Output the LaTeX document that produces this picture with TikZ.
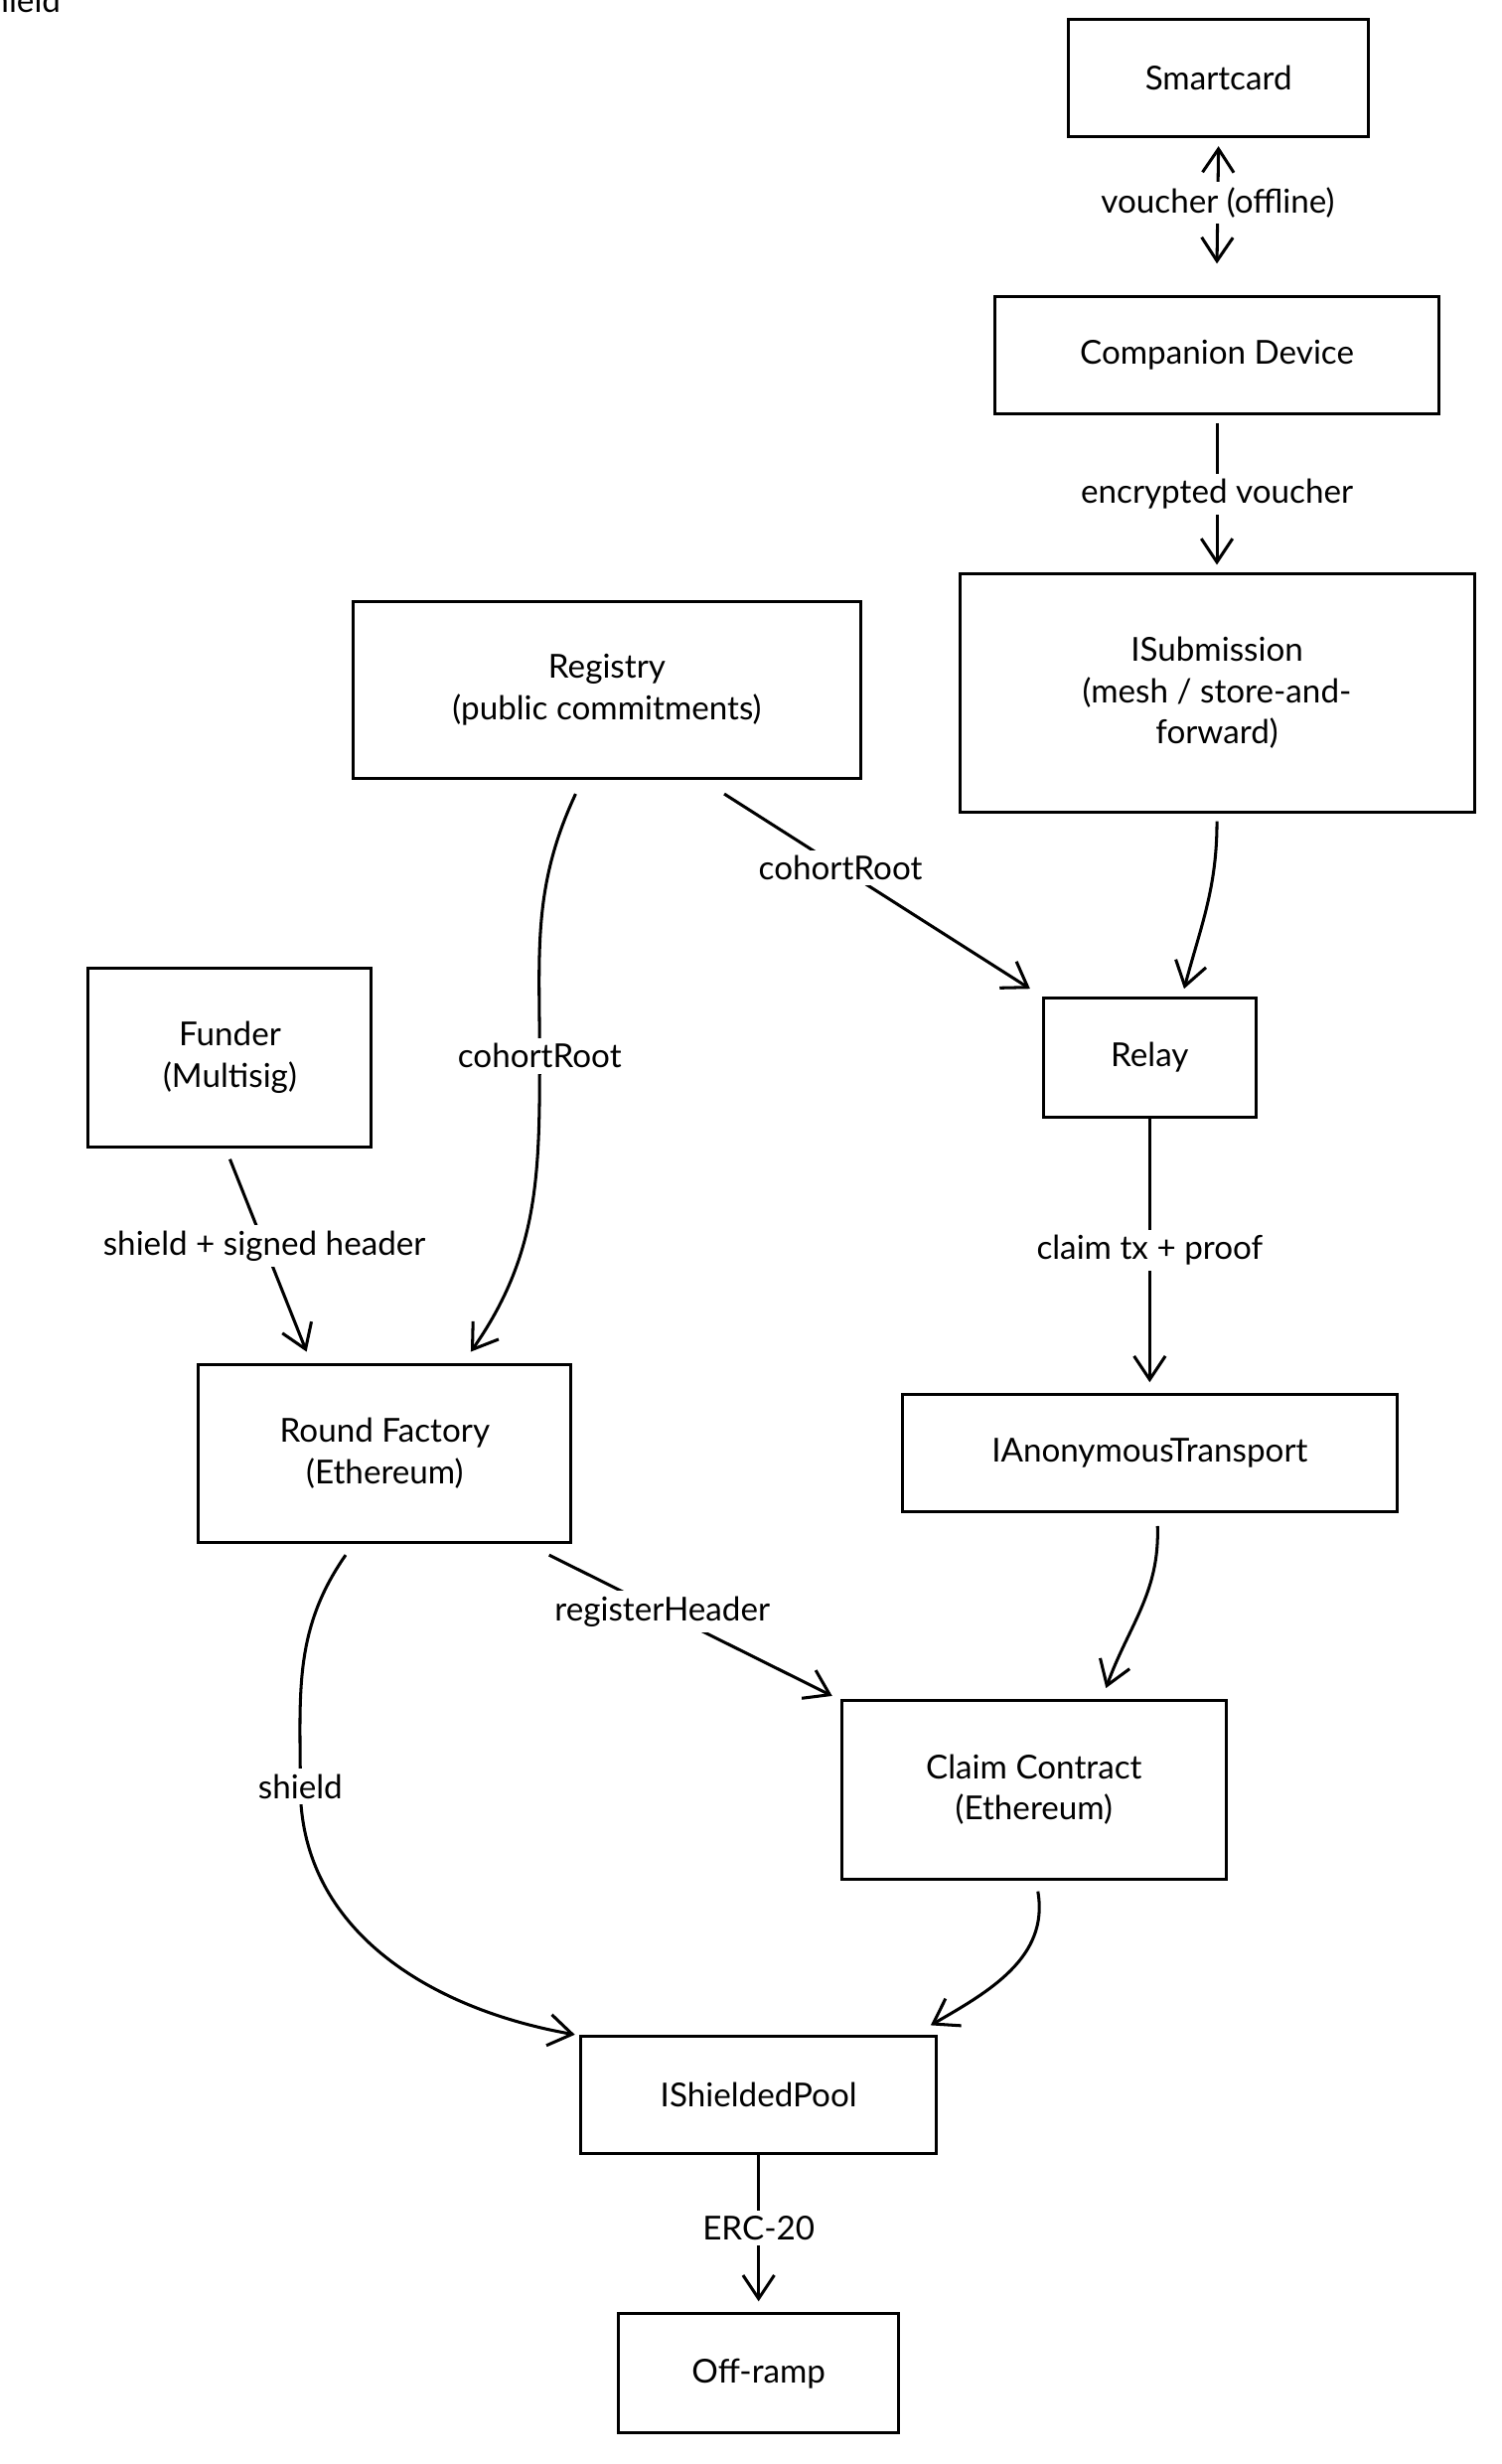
\documentclass[tikz,border=0pt]{standalone}
\usepackage{fontspec}
\setmainfont{Lato}
\usetikzlibrary{arrows.meta}
\tikzset{
  box/.style={draw,line width=1.1pt,align=center,font=\fontsize{12}{15}\selectfont},
  link/.style={line width=1.1pt,-{Straight Barb[length=3mm,width=4mm]}},
  lab/.style={fill=white,inner sep=2pt,font=\fontsize{12}{14}\selectfont}
}
\begin{document}
\begin{tikzpicture}
    \useasboundingbox (0,0) rectangle (19.2,-31.5);
    \node[box,minimum width=3.84cm,minimum height=1.5cm] (card) at (15.58,-1.0) {Smartcard};
    \node[box,minimum width=5.68cm,minimum height=1.5cm] (comp) at (15.56,-4.54) {Companion Device};
    \node[box,minimum width=6.58cm,minimum height=3.04cm] (subm) at (15.56,-8.86) {ISubmission\\(mesh / store-and-\\forward)};
    \node[box,minimum width=6.5cm,minimum height=2.26cm] (reg) at (7.76,-8.82) {Registry\\(public commitments)};
    \node[box,minimum width=2.72cm,minimum height=1.52cm] (relay) at (14.7,-13.52) {Relay};
    \node[box,minimum width=3.62cm,minimum height=2.28cm] (fund) at (2.94,-13.52) {Funder\\(Multisig)};
    \node[box,minimum width=4.76cm,minimum height=2.28cm] (fact) at (4.92,-18.58) {Round Factory\\(Ethereum)};
    \node[box,minimum width=6.32cm,minimum height=1.5cm] (anon) at (14.7,-18.58) {IAnonymousTransport};
    \node[box,minimum width=4.92cm,minimum height=2.28cm] (claim) at (13.22,-22.88) {Claim Contract\\(Ethereum)};
    \node[box,minimum width=4.54cm,minimum height=1.5cm] (pool) at (9.7,-26.78) {IShieldedPool};
    \node[box,minimum width=3.58cm,minimum height=1.52cm] (ramp) at (9.7,-30.34) {Off-ramp};
    % connectors
    \draw[link,{Straight Barb[length=3mm,width=4mm]}-{Straight Barb[length=3mm,width=4mm]}] ([yshift=-1mm]card.south) -- ([yshift=4mm]comp.north) node[lab,pos=0.48] {voucher (offline)};
    \draw[link] ([yshift=-1mm]comp.south) -- ([yshift=1mm]subm.north) node[lab,midway] {encrypted voucher};
    \draw[link] ([yshift=-1mm]subm.south) to[out=-90,in=75] ([xshift=4.4mm,yshift=1mm]relay.north);
    \draw[link] ([xshift=1.5cm,yshift=-1.8mm]reg.south) -- ([xshift=-1.5mm,yshift=1mm]relay.north west) node[lab,pos=0.38] {cohortRoot};
    \draw[link] ([xshift=-4mm,yshift=-1.8mm]reg.south) to[out=-115,in=90] (6.9,-13.5) node[lab] (crA) {cohortRoot} to[out=-90,in=55] ([xshift=1.1cm,yshift=1.4mm]fact.north);
    \draw[link] ([yshift=-1.4mm]fund.south) -- ([xshift=-1cm,yshift=1.4mm]fact.north) node[lab,pos=0.45] {shield + signed header};
    \draw[link] (relay.south) -- ([yshift=1.4mm]anon.north) node[lab,pos=0.5] {claim tx + proof};
    \draw[link] ([xshift=2.1cm,yshift=-1.4mm]fact.south) -- ([xshift=-0.1cm,yshift=0.4mm]claim.north west) node[lab,pos=0.4] {registerHeader};
    \draw[link] ([xshift=0.1cm,yshift=-1.6mm]anon.south) to[out=-88,in=70] ([xshift=3.4cm,yshift=1.4mm]claim.north west) node[lab,pos=0.55] {submit};
    \draw[link] ([xshift=-0.5cm,yshift=-1.4mm]fact.south) to[out=-125,in=90] (3.84,-22.84) node[lab] (shl) {shield} to[out=-90,in=170] ([xshift=-0.06cm]pool.north west);
    \draw[link] ([xshift=0.05cm,yshift=-1.4mm]claim.south) to[out=-80,in=30] ([xshift=2.2cm,yshift=1.2mm]pool.north) node[lab,pos=0.4] {unshield};
    \draw[link] (pool.south) -- ([yshift=1.4mm]ramp.north) node[lab,midway] {ERC-20};
\end{tikzpicture}
\end{document}
